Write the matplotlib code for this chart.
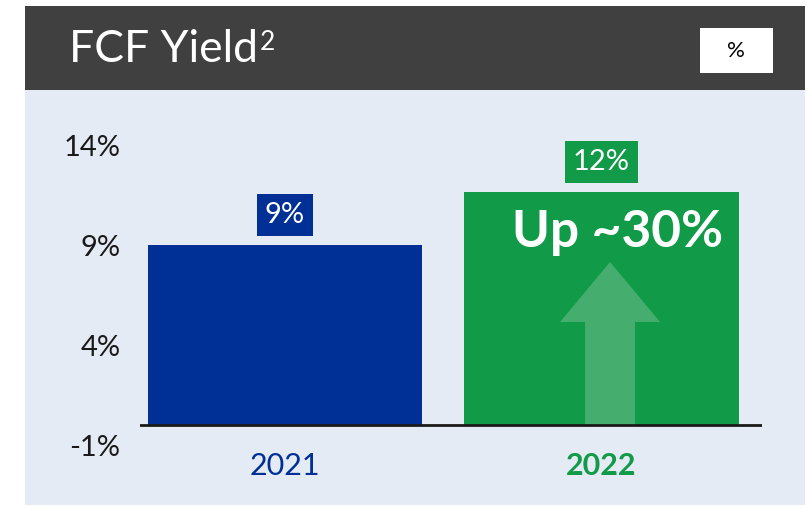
import matplotlib.pyplot as plt
from matplotlib.patches import Rectangle, FancyArrow

# chart data
years = ['2021', '2022']
fcf_yield = [9.0, 11.65]
value_labels = ['9%', '12%']
yticks = [-1, 4, 9, 14]
ytick_labels = ['-1%', '4%', '9%', '14%']
bar_colors = ['#002F96', '#119A47']
growth_note = 'Up ~30%'
title = 'FCF Yield'

plt.rcParams['font.family'] = ['Lato', 'DejaVu Sans']

W, H = 810, 509
fig = plt.figure(figsize=(W / 100, H / 100), dpi=100)
fig.patch.set_facecolor('white')


def px_rect(x0, y0, x1, y1, **kw):
    # rectangle in pixel coords (origin top-left) -> figure fraction
    return Rectangle((x0 / W, 1 - y1 / H), (x1 - x0) / W, (y1 - y0) / H,
                     transform=fig.transFigure, **kw)


# panel background + dark header
fig.add_artist(px_rect(25, 90, 805, 505, fc='#E5EBF5', ec='none', zorder=0))
fig.add_artist(px_rect(25, 6, 805, 90, fc='#404040', ec='none', zorder=0))
fig.add_artist(px_rect(700, 28, 773, 73, fc='white', ec='none', zorder=1))

t = fig.text(69 / W, 1 - 49 / H, title, color='white', fontsize=32,
             va='center', ha='left')
fig.text(736 / W, 1 - 51 / H, '%', color='black', fontsize=16,
         va='center', ha='center')

# main axes
ax = fig.add_axes([140 / W, 1 - 445 / H, 622 / W, 300 / H])
ax.set_facecolor('none')

# superscript after title
ax.annotate('2', xy=(1, 1), xycoords=t, xytext=(1, -1),
            textcoords='offset points', color='white', fontsize=19,
            va='top', ha='left', annotation_clip=False)

x = list(range(len(years)))
ax.bar(x, fcf_yield, width=0.866, color=bar_colors, zorder=2)
ax.axhline(0, color='#1a1a1a', lw=2, zorder=4)

ax.set_xlim(-0.458, 1.507)
ax.set_ylim(-1, 14)
ax.set_yticks(yticks, ytick_labels)
ax.set_xticks(x, years)
ax.tick_params(axis='y', length=0, labelsize=21, pad=14, labelcolor='#1a1a1a')
ax.tick_params(axis='x', length=0, labelsize=22, pad=5)
for lbl, c in zip(ax.get_xticklabels(), bar_colors):
    lbl.set_color(c)
ax.get_xticklabels()[1].set_fontweight('bold')
for s in ax.spines.values():
    s.set_visible(False)

# value labels in boxes above bars
for i, (v, lab, c) in enumerate(zip(fcf_yield, value_labels, bar_colors)):
    ax.text(i, v + 1.5, lab, ha='center', va='center', color='white',
            fontsize=21, zorder=5,
            bbox=dict(boxstyle='square,pad=0.28', fc=c, ec='none'))

# growth arrow inside 2022 bar
arrow = FancyArrow(1.027, 0, 0, 8.15, width=0.158, head_width=0.316,
                   head_length=3.0, length_includes_head=True,
                   fc='#45AE6E', ec='none', zorder=3)
ax.add_patch(arrow)
ax.text(1.052, 9.6, growth_note, ha='center', va='center', color='white',
        fontsize=37, fontweight='bold', zorder=5)

fig.savefig('out.png', dpi=100)
